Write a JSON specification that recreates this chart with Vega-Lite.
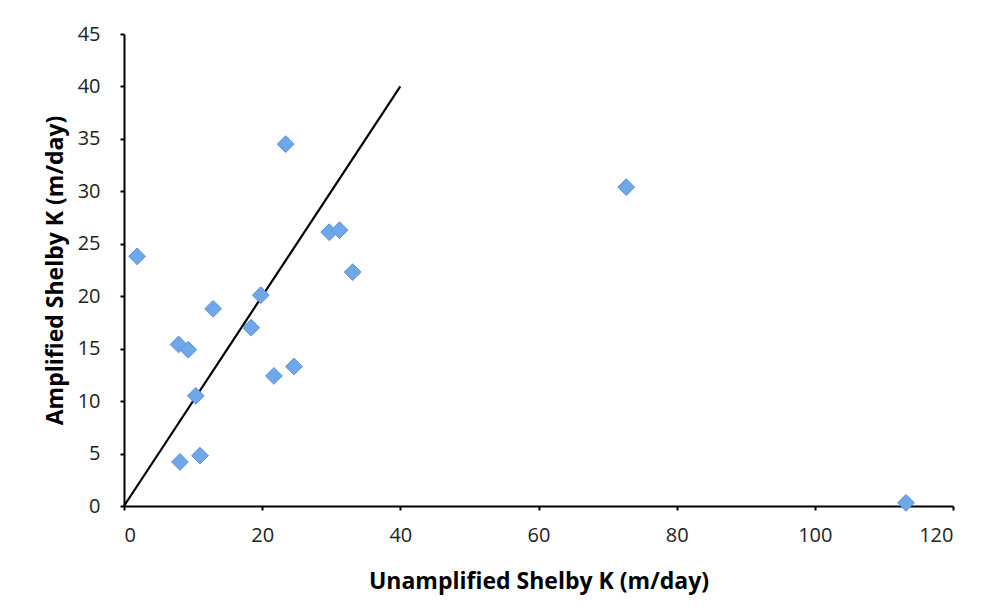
{
  "$schema": "https://vega.github.io/schema/vega-lite/v6.json",
  "autosize": "none",
  "width": 829,
  "height": 472,
  "padding": {"left": 124, "top": 34, "right": 31, "bottom": 105},
  "background": "white",
  "config": {
    "view": {"stroke": null},
    "font": "Open Sans",
    "axis": {
      "grid": false,
      "domainColor": "black",
      "domainWidth": 2,
      "tickColor": "black",
      "tickWidth": 2,
      "tickSize": 4,
      "labelFont": "Open Sans",
      "labelColor": "#222",
      "titleFont": "Open Sans",
      "titleFontWeight": "bold",
      "titleColor": "black"
    }
  },
  "layer": [
    {
      "data": {"values": [{"u": 0, "a": 0}, {"u": 40, "a": 40}]},
      "mark": {"type": "line", "color": "black", "strokeWidth": 2.2},
      "encoding": {
        "x": {"field": "u", "type": "quantitative"},
        "y": {"field": "a", "type": "quantitative"}
      }
    },
    {
      "data": {"values": [
        {"u": 1.9, "a": 23.8},
        {"u": 23.4, "a": 34.5},
        {"u": 29.7, "a": 26.1},
        {"u": 31.2, "a": 26.3},
        {"u": 33.1, "a": 22.3},
        {"u": 72.7, "a": 30.4},
        {"u": 113.2, "a": 0.3},
        {"u": 19.8, "a": 20.1},
        {"u": 12.9, "a": 18.8},
        {"u": 18.4, "a": 17.0},
        {"u": 7.9, "a": 15.4},
        {"u": 9.3, "a": 14.9},
        {"u": 21.7, "a": 12.4},
        {"u": 24.6, "a": 13.3},
        {"u": 10.4, "a": 10.5},
        {"u": 8.1, "a": 4.2},
        {"u": 11.0, "a": 4.8}
      ]},
      "mark": {"type": "point", "shape": "diamond", "filled": true, "size": 280, "color": "#6ea8ea", "stroke": "#5b93d6", "strokeWidth": 1, "opacity": 1},
      "encoding": {
        "x": {"field": "u", "type": "quantitative", "scale": {"domain": [0, 120], "nice": false},
          "axis": {"values": [0, 20, 40, 60, 80, 100, 120], "title": "Unamplified Shelby K (m/day)", "titlePadding": 25, "labelPadding": 15, "labelFontSize": 20, "titleFontSize": 23}},
        "y": {"field": "a", "type": "quantitative", "scale": {"domain": [0, 45], "nice": false},
          "axis": {"values": [0, 5, 10, 15, 20, 25, 30, 35, 40, 45], "title": "Amplified Shelby K (m/day)", "titlePadding": 10, "labelPadding": 20, "labelFontSize": 20, "titleFontSize": 23}}
      }
    }
  ]
}
